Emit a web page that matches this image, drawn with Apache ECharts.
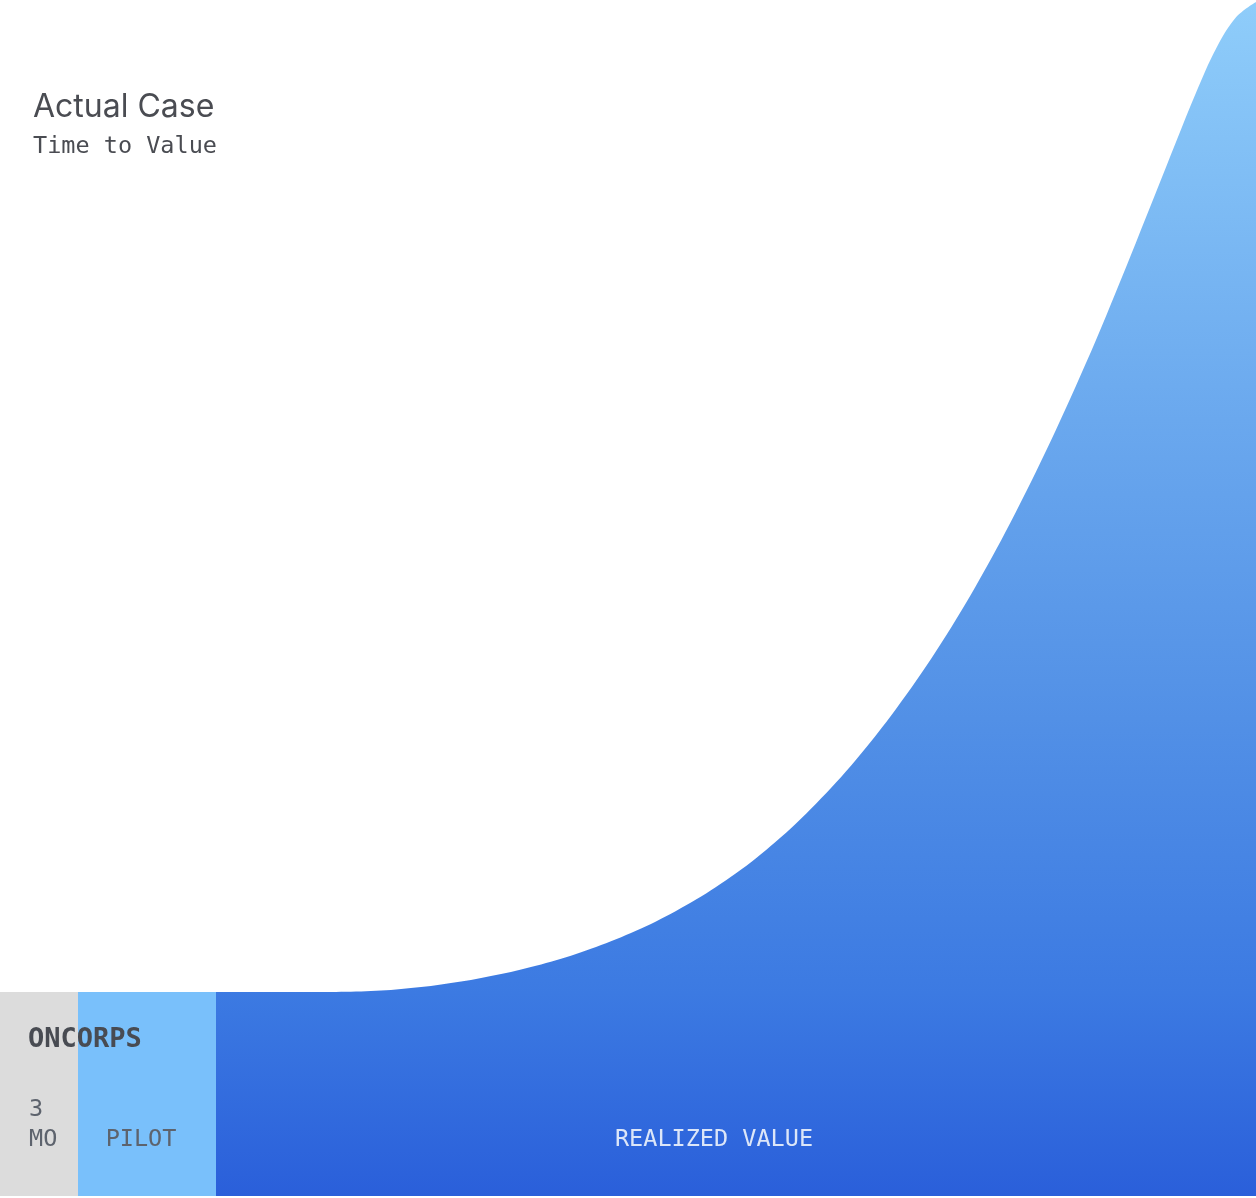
<!DOCTYPE html>
<html>
<head>
<meta charset="utf-8">
<title>Actual Case - Time to Value</title>
<script src="https://cdn.jsdelivr.net/npm/echarts@6/dist/echarts.min.js"></script>
<style>
  html, body { margin: 0; padding: 0; background: #fff; }
  #chart { width: 1256px; height: 1198px; }
</style>
</head>
<body>
<div id="chart"></div>
<script>
// timeline, in the same units as the x axis
var phaseNames = ['3\nMO', 'PILOT', 'REALIZED VALUE']
var phaseStart = [0, 78, 216]
var phaseEnd = [78, 216, 1256]

// realized value curve (value above the pilot baseline), sampled every 20 units
var curveX = [216, 236, 256, 276, 296, 316, 336, 356, 376, 396, 416, 436, 456, 476, 496, 516, 536, 556, 576, 596,
    616, 636, 656, 676, 696, 716, 736, 756, 776, 796, 816, 836, 856, 876, 896, 916, 936, 956, 976, 996,
    1016, 1036, 1056, 1076, 1096, 1116, 1136, 1156, 1176, 1196, 1216, 1236, 1256]
var curveY = [0, 0, 0, 0, 0, 0, 0.1, 0.5, 1.3, 2.6, 4.4, 6.8, 9.7, 13.1, 17, 21.3, 26.2, 31.7, 38, 45,
    52.7, 61.2, 70.6, 81, 92.4, 105, 118.7, 133.8, 150.4, 168.5, 188.2, 209.4, 232.3, 256.8, 283, 310.9, 340.7, 372.4, 406.3, 442.2,
    480.3, 520.3, 562.3, 606.3, 651.9, 700.2, 749.6, 799.7, 850, 899.3, 943.3, 974.7, 990]

var yMin = -204
var yMax = 992

var monoFont = '"DejaVu Sans Mono", "Liberation Mono", monospace'
var phaseFill = ['#dcdcdc', '#79c0fb', 'rgba(0,0,0,0)']
var phaseText = ['#5d636d', '#5d636d', '#dce6f8']

var chart = echarts.init(document.getElementById('chart'))

var option = {
    backgroundColor: '#ffffff',
    animation: false,
    title: {
        text: 'Actual Case',
        subtext: 'Time to Value',
        left: 28,
        top: 86,
        itemGap: 12,
        textStyle: {
            color: '#4a4c52',
            fontFamily: 'Inter, "Noto Sans", sans-serif',
            fontWeight: 'normal',
            fontSize: 32
        },
        subtextStyle: {
            color: '#4a4c52',
            fontFamily: monoFont,
            fontSize: 23.5
        }
    },
    grid: { left: 0, right: 0, top: 0, bottom: 2 },
    xAxis: {
        type: 'value',
        min: 0,
        max: 1256,
        show: false
    },
    yAxis: {
        type: 'value',
        min: yMin,
        max: yMax,
        show: false
    },
    graphic: [
        {
            type: 'text',
            left: 28,
            top: 1026,
            style: {
                text: 'ONCORPS',
                fill: '#484b52',
                font: 'bold 27px ' + monoFont
            },
            z: 100
        }
    ],
    series: [
        {
            type: 'line',
            z: 2,
            smooth: 0.35,
            symbol: 'none',
            lineStyle: { width: 0 },
            data: curveX.map(function (x, i) { return [x, curveY[i]] }),
            areaStyle: {
                origin: 'start',
                opacity: 1,
                color: new echarts.graphic.LinearGradient(0, 0, 0, 1, [
                    { offset: 0, color: '#8fcdfa' },
                    { offset: 0.35, color: '#6aa8ee' },
                    { offset: 0.6, color: '#5290e6' },
                    { offset: 0.83, color: '#3c7ae2' },
                    { offset: 1, color: '#2a5fda' }
                ])
            }
        },
        {
            type: 'custom',
            z: 3,
            data: phaseNames.map(function (n, i) { return [phaseStart[i], phaseEnd[i], i] }),
            encode: { x: [0, 1] },
            renderItem: function (params, api) {
                var i = api.value(2)
                var p0 = api.coord([api.value(0), 0])
                var p1 = api.coord([api.value(1), yMin])
                var w = p1[0] - p0[0]
                var h = p1[1] - p0[1]
                var tx, align
                if (i === 0) { tx = p0[0] + 29; align = 'left' }
                else if (i === 1) { tx = p0[0] + w / 2 - 6; align = 'center' }
                else { tx = p0[0] + w / 2 - 22; align = 'center' }
                return {
                    type: 'group',
                    children: [
                        {
                            type: 'rect',
                            shape: { x: p0[0], y: p0[1], width: w, height: h },
                            style: { fill: phaseFill[i] }
                        },
                        {
                            type: 'text',
                            z2: 50,
                            style: {
                                text: phaseNames[i],
                                x: tx,
                                y: p0[1] + 163,
                                align: align,
                                verticalAlign: 'bottom',
                                fill: phaseText[i],
                                font: '23.5px ' + monoFont,
                                lineHeight: 30
                            }
                        }
                    ]
                }
            }
        }
    ]
}

chart.setOption(option)
window.addEventListener('resize', function () { chart.resize() })
</script>
</body>
</html>
